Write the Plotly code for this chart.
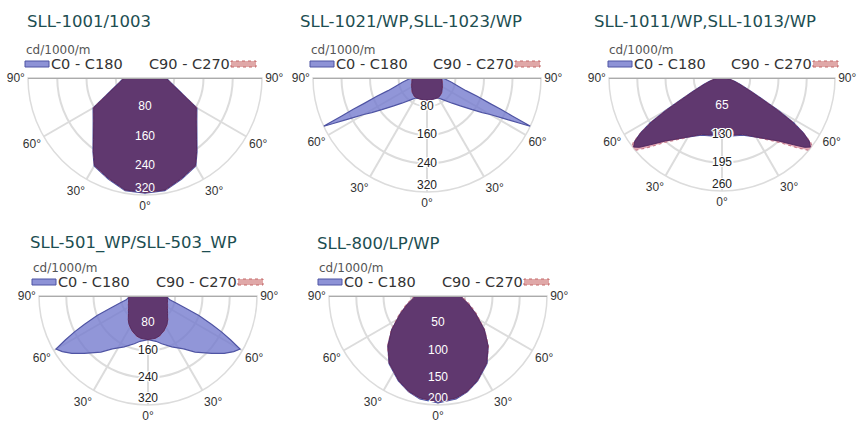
import plotly.graph_objects as go

W, H = 857, 423

# ---------------------------------------------------------------------------
# Photometric data (cd/1000 lm), half profiles from 0 deg (nadir) to 90 deg.
# Each curve is symmetric, so the other half is the mirror image.
# ---------------------------------------------------------------------------
TITLES = [
    "SLL-1001/1003",
    "SLL-1021/WP,SLL-1023/WP",
    "SLL-1011/WP,SLL-1013/WP",
    "SLL-501_WP/SLL-503_WP",
    "SLL-800/LP/WP",
]

GAMMA_1 = [0, 10, 20, 30, 35, 40, 50, 60, 65, 70, 80, 90]
C0_1 = [315, 313, 294, 278, 248, 221, 185, 164, 122, 98, 71, 58]
C90_1 = [313, 311, 292, 276, 246, 219, 183, 162, 120, 96, 70, 57]
TICKS_1 = [80, 160, 240, 320]

GAMMA_2 = [0, 10, 20, 30, 36, 45, 50, 55, 58, 60, 62, 63, 64, 65, 66, 67, 68, 70, 72, 75, 80, 85, 90]
C0_2 = [62, 62, 62, 65, 75, 100, 122, 155, 183, 205, 240, 262, 290, 322, 262, 225, 190, 150, 115, 92, 70, 55, 45]
C90_2 = [62, 62, 62, 63, 62, 58, 55, 52, 51, 50, 49, 49, 48, 48, 48, 47, 47, 46, 45, 44, 43, 42, 42]
TICKS_2 = [80, 160, 240, 320]

GAMMA_3 = [0, 10, 20, 27, 35, 42, 47, 50, 52, 54, 56, 58, 60, 62, 65, 70, 75, 80, 85, 90]
C0_3 = [132, 135, 140, 151, 170, 195, 225, 248, 258, 248, 225, 195, 150, 110, 75, 46, 30, 18, 12, 8]
C90_3 = [130, 133, 138, 150, 172, 200, 235, 258, 266, 252, 225, 190, 145, 105, 72, 44, 28, 17, 11, 7]
TICKS_3 = [65, 130, 195, 260]

GAMMA_4 = [0, 10, 16, 25, 34, 40, 48, 53, 57, 60, 62, 64, 66, 69, 72, 76, 80, 85, 90]
C0_4 = [128, 135, 146, 165, 187, 215, 252, 280, 300, 312, 275, 240, 205, 160, 118, 85, 65, 58, 57]
C90_4 = [128, 126, 122, 112, 100, 90, 77, 72, 68, 66, 65, 64, 63, 61, 60, 59, 58, 57, 57]
TICKS_4 = [80, 160, 240, 320]

GAMMA_5 = [0, 10, 17, 25, 36, 45, 54, 65, 75, 85, 90]
C0_5 = [196, 192, 184, 172, 153, 130, 105, 76, 58, 45, 42]
C90_5 = [194, 190, 183, 171, 152, 131, 106, 78, 60, 47, 44]
TICKS_5 = [50, 100, 150, 200]

# photometric angles shown on the angular axis (left side negative)
ANGLE_TICKS = [-90, -60, -30, 0, 30, 60, 90]
ANGLE_LABELS = ["90°", "60°", "30°", "0°", "30°", "60°", "90°"]

# the nadir (0 deg) sits at 270 deg on the plotting circle
NADIR = 270

PANELS = [
    (GAMMA_1, C0_1, C90_1, TICKS_1),
    (GAMMA_2, C0_2, C90_2, TICKS_2),
    (GAMMA_3, C0_3, C90_3, TICKS_3),
    (GAMMA_4, C0_4, C90_4, TICKS_4),
    (GAMMA_5, C0_5, C90_5, TICKS_5),
]

# ---------------------------------------------------------------------------
# Page geometry (pixels): diagram centre, radius, title and legend placement
# ---------------------------------------------------------------------------
CENTER_X = [145, 427, 722, 148, 438]
CENTER_Y = [78, 78, 78, 296, 296]
RADIUS = [117, 114, 113, 109, 109]
TITLE_X = [25, 298, 592, 28, 315]
TITLE_Y = [22, 22, 22, 243, 243]
LEG_L = [25, 310, 608, 32, 318]
LEG_R = [256, 540, 838, 263, 549]

TITLE_COLOR = "#1d4e51"
GRID = "#dcdcdc"
BLUE_FILL = "rgba(118,124,206,0.80)"
BLUE_LINE = "#4f54a3"
PINK_FILL = "rgba(222,150,165,0.80)"
PINK_LINE = "#c77c8c"
BOTH_FILL = "rgba(92,52,108,0.96)"


def px(x):
    return x / W


def py(y):
    return 1 - y / H


def to_theta(g):
    return NADIR + g


def mirror(gamma, values):
    g_full = [-g for g in reversed(gamma)] + list(gamma[1:])
    r = list(reversed(values)) + list(values[1:])
    return [to_theta(g) for g in g_full], r


fig = go.Figure()
annotations = []
shapes = []

for i, (gamma, c0, c90, ticks) in enumerate(PANELS):
    sub = "polar" if i == 0 else f"polar{i + 1}"
    rmax = ticks[-1]

    th, r0 = mirror(gamma, c0)
    _, r90 = mirror(gamma, c90)
    r_both = [min(a, b) for a, b in zip(r0, r90)]

    fig.add_trace(go.Scatterpolar(
        r=r0, theta=th, subplot=sub, mode="lines", fill="toself",
        fillcolor=BLUE_FILL, line=dict(color=BLUE_LINE, width=1.2),
        showlegend=False, hoverinfo="skip"))
    fig.add_trace(go.Scatterpolar(
        r=r90, theta=th, subplot=sub, mode="lines", fill="toself",
        fillcolor=PINK_FILL, line=dict(color=PINK_LINE, width=1.2, dash="dot"),
        showlegend=False, hoverinfo="skip"))
    fig.add_trace(go.Scatterpolar(
        r=r_both, theta=th, subplot=sub, mode="lines", fill="toself",
        fillcolor=BOTH_FILL, line=dict(color="rgba(80,40,95,0.9)", width=1),
        showlegend=False, hoverinfo="skip"))

    # horizontal 90-90 base line
    fig.add_trace(go.Scatterpolar(
        r=[rmax, 0, rmax], theta=[to_theta(-90), to_theta(0), to_theta(90)],
        subplot=sub, mode="lines", line=dict(color="#ababab", width=2),
        showlegend=False, hoverinfo="skip"))

    # radial scale labels along the nadir direction
    r_nadir = min(c0[0], c90[0])
    label_r = [t if k < len(ticks) - 1 else 0.9 * t for k, t in enumerate(ticks)]
    inside = [lr < 0.97 * r_nadir for lr in label_r]
    pos = ["middle center"] * (len(ticks) - 1) + ["top center"]
    for flag, color, shadow in ((True, "white", "none"),
                                (False, "#222222",
                                 "1px 1px 0 #fff, -1px -1px 0 #fff, 1px -1px 0 #fff, "
                                 "-1px 1px 0 #fff, 2px 0 0 #fff, -2px 0 0 #fff")):
        sel = [k for k in range(len(ticks)) if inside[k] == flag]
        if not sel:
            continue
        fig.add_trace(go.Scatterpolar(
            r=[ticks[k] for k in sel], theta=[to_theta(0)] * len(sel), subplot=sub,
            mode="text", text=[str(ticks[k]) for k in sel],
            textposition=[pos[k] for k in sel],
            textfont=dict(family="Liberation Sans, Arial", size=12, color=color,
                          shadow=shadow),
            showlegend=False, hoverinfo="skip"))

    cx, cy, R = CENTER_X[i], CENTER_Y[i], RADIUS[i]
    fig.update_layout({
        sub: dict(
            domain=dict(x=[px(cx - R), px(cx + R)], y=[py(cy + R), py(cy)]),
            sector=[180, 360],
            bgcolor="white",
            radialaxis=dict(range=[0, rmax], tickvals=ticks, showticklabels=False,
                            ticks="", showline=False, gridcolor=GRID, gridwidth=1.5,
                            layer="below traces"),
            angularaxis=dict(rotation=0, direction="counterclockwise",
                             tickmode="array",
                             tickvals=[to_theta(a) for a in ANGLE_TICKS],
                             ticktext=ANGLE_LABELS, ticks="",
                             showline=True, linecolor=GRID, linewidth=1.5,
                             gridcolor=GRID, gridwidth=1.5, layer="below traces",
                             tickfont=dict(family="Liberation Sans, Arial", size=12,
                                           color="#333333")),
        )
    })

    # title
    annotations.append(dict(
        x=px(TITLE_X[i]), y=py(TITLE_Y[i]), xref="paper", yref="paper",
        xanchor="left", yanchor="middle", showarrow=False, text=TITLES[i],
        font=dict(family="DejaVu Sans", size=16.5, color=TITLE_COLOR)))
    # unit
    annotations.append(dict(
        x=px(LEG_L[i]), y=py(cy - 28), xref="paper", yref="paper",
        xanchor="left", yanchor="middle", showarrow=False, text="cd/1000/m",
        font=dict(family="DejaVu Sans", size=12, color="#555555"), borderpad=0))
    # legend
    ly = cy - 14
    L, Rr = LEG_L[i], LEG_R[i]
    shapes.append(dict(type="rect", xref="paper", yref="paper",
                       x0=px(L), x1=px(L + 24), y0=py(ly + 3), y1=py(ly - 3),
                       fillcolor="#8d92d6", line=dict(color="#4f54a3", width=1)))
    shapes.append(dict(type="rect", xref="paper", yref="paper",
                       x0=px(Rr - 25), x1=px(Rr), y0=py(ly + 3), y1=py(ly - 3),
                       fillcolor="#e0a8a8", line=dict(color="#c46b6b", width=1, dash="dot")))
    annotations.append(dict(
        x=px(L + 25), y=py(ly), xref="paper", yref="paper",
        xanchor="left", yanchor="middle", showarrow=False, text="C0 - C180",
        font=dict(family="DejaVu Sans", size=14.5, color="#333333"), borderpad=0))
    annotations.append(dict(
        x=px(Rr - 25), y=py(ly), xref="paper", yref="paper",
        xanchor="right", yanchor="middle", showarrow=False, text="C90 - C270",
        font=dict(family="DejaVu Sans", size=14.5, color="#333333"), borderpad=0))

fig.update_layout(
    width=W, height=H,
    margin=dict(l=0, r=0, t=0, b=0),
    paper_bgcolor="white",
    showlegend=False,
    annotations=annotations,
    shapes=shapes,
)

fig.write_html("out.html")
